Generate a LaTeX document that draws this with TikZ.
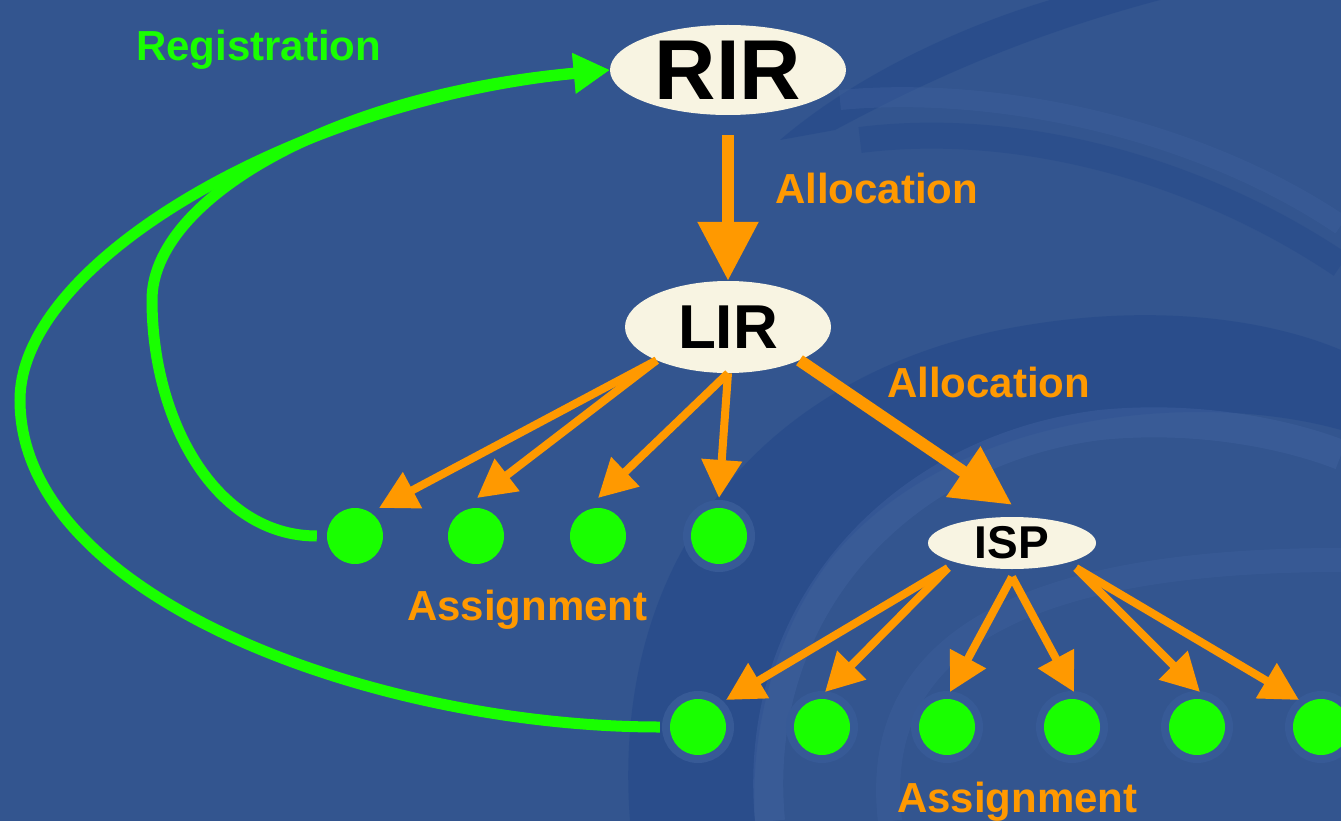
\documentclass[tikz,border=0pt]{standalone}
\usepackage{fontspec}
\setmainfont{Liberation Sans}
\usetikzlibrary{arrows.meta,shapes.geometric}

\definecolor{bg}{HTML}{33558F}
\definecolor{swdark}{HTML}{234789}
\definecolor{swlight}{HTML}{4163A0}
\definecolor{halocol}{HTML}{375A96}
\definecolor{regreen}{HTML}{19FF00}
\definecolor{alorange}{HTML}{FF9900}
\definecolor{cream}{HTML}{F8F4E2}

\tikzset{
  bubble/.style={ellipse, fill=cream, inner sep=0pt, text=black, font=\bfseries},
  dot/.style={circle, fill=regreen, minimum size=56pt, inner sep=0pt},
  halo/.style={preaction={draw=halocol, line width=16pt}},
  lbl/.style={font=\fontsize{42}{42}\selectfont\bfseries, inner sep=0pt, anchor=base west},
  bigarrow/.style={draw=alorange, line width=12pt, -{Triangle[length=59pt, width=58pt]}},
  smallarrow/.style={draw=alorange, line width=8pt, -{Triangle[length=38pt, width=39pt]}},
  greenarrow/.style={draw=regreen, line width=11pt, -{Triangle[length=36pt, width=38pt]}},
}

\begin{document}
\begin{tikzpicture}[x=1pt, y=-1pt]
  \fill[bg] (0,0) rectangle (1341,821);
  \useasboundingbox (0,0) rectangle (1341,821);

  % swirling background bands on the right
  \begin{scope}
    \clip (0,0) rectangle (1341,821);
    \fill[swdark, opacity=.55] (630,821) .. controls (610,560) and (760,380) .. (1000,330)
      .. controls (1150,300) and (1270,320) .. (1341,350) -- (1341,430)
      .. controls (1200,390) and (950,410) .. (830,560)
      .. controls (770,640) and (750,740) .. (755,821) -- cycle;
    \draw[swlight, line width=30pt, opacity=.45] (770,821) .. controls (750,610) and (900,450) .. (1100,425)
      .. controls (1200,415) and (1290,435) .. (1341,455);
    \draw[swlight, line width=24pt, opacity=.35] (890,821) .. controls (870,650) and (1010,560) .. (1341,560);
    \fill[swdark, opacity=.55] (780,140) .. controls (850,80) and (950,30) .. (1050,0)
      -- (1160,0) .. controls (1010,40) and (910,90) .. (835,130) -- cycle;
    \draw[swlight, line width=20pt, opacity=.35] (840,100) .. controls (1000,85) and (1200,130) .. (1341,225);
    \draw[swdark, line width=26pt, opacity=.4] (860,140) .. controls (1020,120) and (1200,170) .. (1341,265);
  \end{scope}

  % registry hierarchy
  \node[bubble, minimum width=236pt, minimum height=90pt, font=\fontsize{85}{85}\selectfont\bfseries] (RIR) at (728,70) {RIR};
  \node[bubble, minimum width=206pt, minimum height=92pt, font=\fontsize{62}{62}\selectfont\bfseries] (LIR) at (728,327) {LIR};
  \node[bubble, minimum width=168pt, minimum height=52pt, font=\fontsize{46}{46}\selectfont\bfseries] (ISP) at (1012,543) {ISP};

  % end users assigned by the LIR
  \node[dot] (a1) at (355,536) {};
  \node[dot] (a2) at (476,536) {};
  \node[dot] (a3) at (598,536) {};
  \node[dot, halo] (a4) at (719,536) {};

  % end users assigned by the ISP
  \node[dot, halo] (b1) at (698,727) {};
  \node[dot, halo] (b2) at (822,727) {};
  \node[dot, halo] (b3) at (947,727) {};
  \node[dot, halo] (b4) at (1072,727) {};
  \node[dot, halo] (b5) at (1197,727) {};
  \node[dot, halo] (b6) at (1321,727) {};

  % labels
  \node[lbl, text=regreen] (reg) at (136,61) {Registration};
  \node[lbl, text=alorange] (alloc1) at (775,204) {Allocation};
  \node[lbl, text=alorange] (alloc2) at (887,397) {Allocation};
  \node[lbl, text=alorange] (assign1) at (407,620) {Assignment};
  \node[lbl, text=alorange] (assign2) at (897,812) {Assignment};

  % allocations
  \draw[bigarrow] ([yshift=-20pt]RIR.south) -- (LIR.north);
  \draw[bigarrow] (LIR.-25) -- ([yshift=12pt]ISP.north);

  % assignments from the LIR
  \draw[smallarrow] (LIR.205) -- ([xshift=24pt, yshift=28pt]a1.center);
  \draw[smallarrow] (LIR.205) -- ([xshift=1pt, yshift=38pt]a2.center);
  \draw[smallarrow] (LIR.south) -- ([yshift=38pt]a3.center);
  \draw[smallarrow] (LIR.south) -- ([yshift=38pt]a4.center);

  % assignments from the ISP
  \coordinate (isL) at ([xshift=-64pt, yshift=-25pt]ISP.center);
  \coordinate (isM) at ([yshift=-34pt]ISP.center);
  \coordinate (isR) at ([xshift=64pt, yshift=-25pt]ISP.center);
  \draw[smallarrow] (isL) -- ([xshift=28pt, yshift=27pt]b1.center);
  \draw[smallarrow] (isL) -- ([xshift=3pt, yshift=35pt]b2.center);
  \draw[smallarrow] (isM) -- ([xshift=3pt, yshift=35pt]b3.center);
  \draw[smallarrow] (isM) -- ([xshift=2pt, yshift=35pt]b4.center);
  \draw[smallarrow] (isR) -- ([xshift=3pt, yshift=35pt]b5.center);
  \draw[smallarrow] (isR) -- ([xshift=-22pt, yshift=27pt]b6.center);

  % registration loops back to the RIR
  \coordinate (outerL) at (20,400);
  \coordinate (innerL) at (152,300);
  \draw[greenarrow] ([xshift=-10pt]b1.west) .. controls (380,727) and (20,600) .. (outerL)
    .. controls (20,260) and (300,100) .. (RIR.west);
  \draw[greenarrow] ([xshift=-10pt]a1.west) .. controls (215,536) and (152,420) .. (innerL)
    .. controls (152,200) and (330,95) .. (RIR.west);
\end{tikzpicture}
\end{document}
